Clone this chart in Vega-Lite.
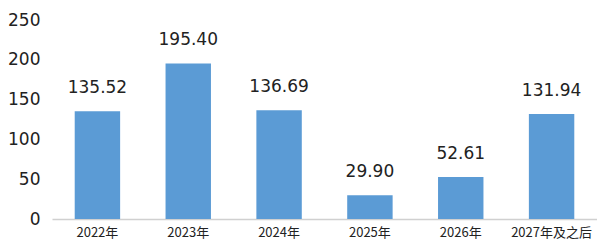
{
  "$schema": "https://vega.github.io/schema/vega-lite/v6.json",
  "width": 545,
  "height": 199,
  "autosize": "none",
  "padding": {"left": 52, "top": 20, "right": 0, "bottom": 27},
  "background": "white",
  "config": {"view": {"stroke": null}},
  "data": {"values": [
    {"year": "2022年", "value": 135.52},
    {"year": "2023年", "value": 195.40},
    {"year": "2024年", "value": 136.69},
    {"year": "2025年", "value": 29.90},
    {"year": "2026年", "value": 52.61},
    {"year": "2027年及之后", "value": 131.94}
  ]},
  "encoding": {
    "x": {"field": "year", "type": "nominal", "sort": null,
      "scale": {"paddingInner": 0.5, "paddingOuter": 0.25},
      "axis": {"title": null, "labelAngle": 0, "labelFont": "Noto Sans CJK SC", "labelFontSize": 13, "labelColor": "#222", "labelPadding": 7, "ticks": false, "domainColor": "#d0d0d0", "domainWidth": 1.5}},
    "y": {"field": "value", "type": "quantitative",
      "scale": {"domain": [0, 250]},
      "axis": {"title": null, "values": [0, 50, 100, 150, 200, 250], "grid": false, "domain": false, "ticks": false, "labelFont": "DejaVu Sans", "labelFontSize": 17, "labelColor": "#222", "labelPadding": 12}}
  },
  "layer": [
    {"mark": {"type": "bar", "color": "#5B9BD5"}},
    {"mark": {"type": "text", "baseline": "bottom", "dy": -14, "font": "DejaVu Sans", "fontSize": 17, "color": "#222"},
     "encoding": {"text": {"field": "value", "type": "quantitative", "format": ".2f"}}}
  ]
}
